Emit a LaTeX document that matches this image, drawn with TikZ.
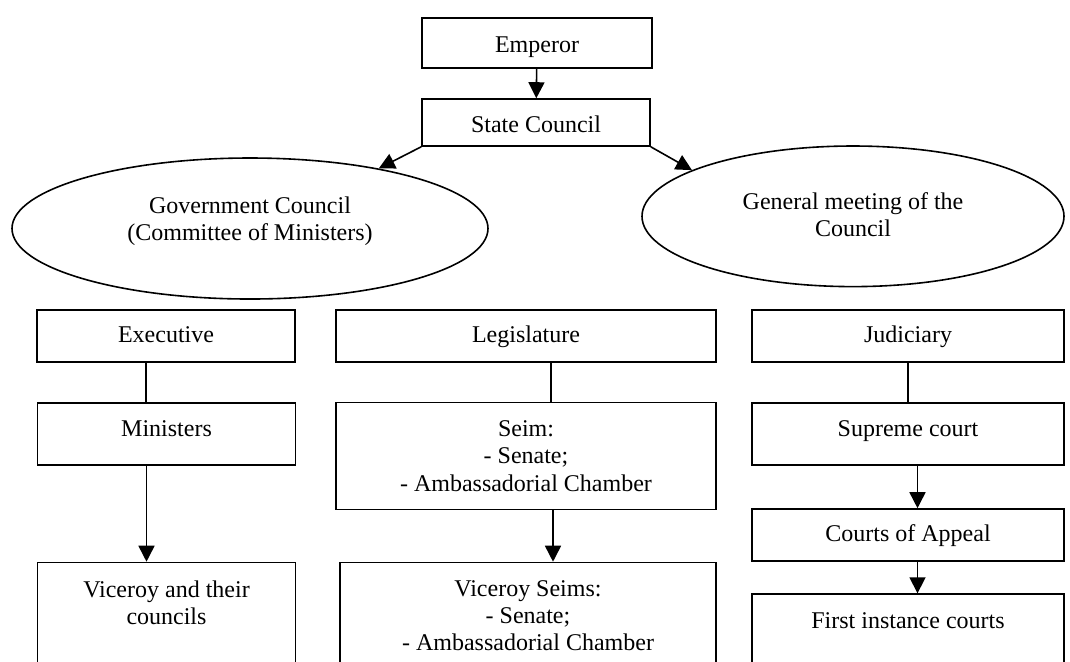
\documentclass[tikz,border=0pt]{standalone}
\usepackage{fontspec}
\setmainfont{Liberation Serif}
\usetikzlibrary{arrows.meta,calc,positioning,shapes.geometric}

\begin{document}
\begin{tikzpicture}[x=0.5pt,y=-0.5pt,font=\fontsize{12}{13.6}\selectfont,
  line width=0.8pt,>={Triangle[length=8pt,width=8pt]},
  box/.style={draw,rectangle,align=center,inner sep=0pt},
  oneline/.style={box,text height=8.5pt,text depth=2.5pt},
  oval/.style={draw,ellipse,align=center,inner sep=0pt},
  openbox/.style={box,anchor=north,inner ysep=9pt,text depth=70pt}]
  \useasboundingbox (0,0) rectangle (1070,661);
  \clip (0,0) rectangle (1070,661);
  % top of the chart
  \node[oneline,minimum width=115pt,minimum height=25pt,text height=9.6pt,text depth=0pt]
    (emperor) at (537,43) {Emperor};
  \node[oneline,minimum width=114pt,minimum height=23.5pt,text height=10.4pt,text depth=0pt]
    (statecouncil) at (536,122.5) {State Council};
  \node[oval,minimum width=238pt,minimum height=70.5pt,text depth=10pt] (govcouncil)
    at (250,228.5) {Government Council\\(Committee of Ministers)};
  \node[oval,minimum width=211pt,minimum height=70.3pt,text depth=2pt] (genmeeting)
    at (853,216.3) {General meeting of the\\Council};
  \draw[->] (emperor) -- (statecouncil);
  \draw[->] (statecouncil.south west) -- (govcouncil.25);
  \draw[->] (statecouncil.south east) -- (genmeeting.164);
  % branches
  \node[oneline,minimum width=129pt,minimum height=26pt] (executive) at (166,336) {Executive};
  \node[oneline,minimum width=190pt,minimum height=26pt] (legislature) at (526,336) {Legislature};
  \node[oneline,minimum width=156pt,minimum height=26pt] (judiciary) at (908,336) {Judiciary};
  \node[oneline,minimum width=129pt,minimum height=31pt,text depth=6pt] (ministers) at (166.5,434) {Ministers};
  \node[box,minimum width=190pt,minimum height=53.5pt] (seim) at (526,456)
    {Seim:\\- Senate;\\- Ambassadorial Chamber};
  \node[oneline,minimum width=156pt,minimum height=31pt,text depth=6pt] (supreme) at (908,434) {Supreme court};
  \node[oneline,minimum width=156pt,minimum height=26pt] (appeal) at (908,535) {Courts of Appeal};
  \node[openbox,minimum width=129pt] (viceroy) at (166.5,561.7) {Viceroy and their\\councils};
  \node[openbox,minimum width=188pt] (viceroyseims) at (528,561.7)
    {Viceroy Seims:\\- Senate;\\- Ambassadorial Chamber};
  \node[openbox,minimum width=156pt] (firstinst) at (908,593.3) {First instance courts};
  % links
  \draw ([xshift=-10pt]executive.south) -- ([xshift=-10pt]executive.south |- ministers.north);
  \draw[->] ([xshift=-10pt]ministers.south) -- ([xshift=-10pt]ministers.south |- viceroy.north);
  \draw ([xshift=12.5pt]legislature.south) -- ([xshift=12.5pt]legislature.south |- seim.north);
  \draw[->] ([xshift=13.5pt]seim.south) -- ([xshift=13.5pt]seim.south |- viceroyseims.north);
  \draw (judiciary) -- (supreme);
  \draw[->] ([xshift=4.75pt]supreme.south) -- ([xshift=4.75pt]supreme.south |- appeal.north);
  \draw[->] ([xshift=4.75pt]appeal.south) -- ([xshift=4.75pt]appeal.south |- firstinst.north);
\end{tikzpicture}
\end{document}
